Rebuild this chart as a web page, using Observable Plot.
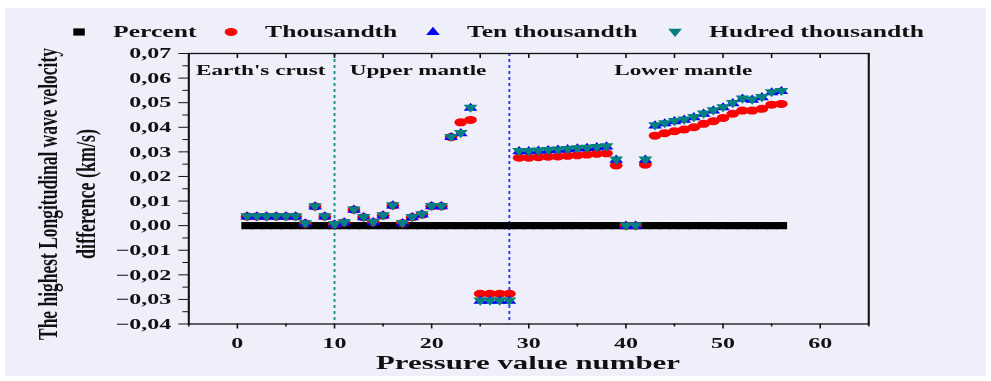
<!DOCTYPE html>
<html><head><meta charset="utf-8">
<script src="https://cdn.jsdelivr.net/npm/d3@7"></script>
<script src="https://cdn.jsdelivr.net/npm/@observablehq/plot@0.6"></script>
<style>
html,body{margin:0;padding:0;background:#fff;width:991px;height:381px;overflow:hidden}
#panel{position:absolute;left:5px;top:8px;width:981px;height:368px;background:#EFEFFB}
#chart{position:absolute;left:0;top:0;transform-origin:0 0;transform:scaleX(1.6)}
</style></head><body><div id="panel"></div><div id="chart"></div>
<script>
// ---- data ----
const pressureNumber = [1,2,3,4,5,6,7,8,9,10,11,12,13,14,15,16,17,18,19,20,21,22,23,24,25,26,27,28,29,30,31,32,33,34,35,36,37,38,39,40,41,42,43,44,45,46,47,48,49,50,51,52,53,54,55,56];
const percent = [0,0,0,0,0,0,0,0,0,0,0,0,0,0,0,0,0,0,0,0,0,0,0,0,0,0,0,0,0,0,0,0,0,0,0,0,0,0,0,0,0,0,0,0,0,0,0,0,0,0,0,0,0,0,0,0];
const thousandth = [0.0037,0.0037,0.0037,0.0037,0.0037,0.0037,0.0009,0.0078,0.0037,0.0005,0.0013,0.0065,0.0034,0.0014,0.0041,0.0082,0.0010,0.0034,0.0045,0.0079,0.0079,0.0360,0.0420,0.0430,-0.0277,-0.0277,-0.0277,-0.0277,0.0276,0.0276,0.0278,0.0280,0.0281,0.0284,0.0286,0.0289,0.0292,0.0294,0.0245,0,0,0.0248,0.0366,0.0376,0.0384,0.0391,0.0400,0.0414,0.0425,0.0438,0.0455,0.0468,0.0468,0.0475,0.0492,0.0495];
const tenThousandth = [0.0037,0.0037,0.0037,0.0037,0.0037,0.0037,0.0009,0.0078,0.0037,0.0005,0.0013,0.0065,0.0034,0.0014,0.0041,0.0082,0.0010,0.0034,0.0045,0.0079,0.0079,0.0360,0.0376,0.0479,-0.0305,-0.0305,-0.0305,-0.0305,0.0303,0.0303,0.0305,0.0307,0.0309,0.0311,0.0314,0.0316,0.0319,0.0322,0.0268,0,0,0.0268,0.0407,0.0416,0.0425,0.0431,0.0441,0.0455,0.0468,0.0481,0.0498,0.0516,0.0512,0.0522,0.0542,0.0547];
const hundredThousandth = [0.0037,0.0037,0.0037,0.0037,0.0037,0.0037,0.0009,0.0078,0.0037,0.0005,0.0013,0.0065,0.0034,0.0014,0.0041,0.0082,0.0010,0.0034,0.0045,0.0079,0.0079,0.0360,0.0376,0.0479,-0.0305,-0.0305,-0.0305,-0.0305,0.0303,0.0303,0.0305,0.0307,0.0309,0.0311,0.0314,0.0316,0.0319,0.0322,0.0268,0,0,0.0268,0.0407,0.0416,0.0425,0.0431,0.0441,0.0455,0.0468,0.0481,0.0498,0.0516,0.0512,0.0522,0.0542,0.0547];
const seriesNames = ["Percent","Thousandth","Ten thousandth","Hudred thousandth"];
const seriesColors = ["#000000","#FF0000","#0000FF","#008080"];
const yTicks = [-0.04,-0.03,-0.02,-0.01,0,0.01,0.02,0.03,0.04,0.05,0.06,0.07];
const yMinorTicks = [-0.035,-0.025,-0.015,-0.005,0.005,0.015,0.025,0.035,0.045,0.055,0.065];
const xTicks = [0,10,20,30,40,50,60];
const xMinorTicks = [-5,5,15,25,35,45,55,65];
const xTopTicks = [-5,0,5,10,15,20,25,30,35,40,45,50,55,60,65];
const boundaries = [{x:10,color:"#1A9090"},{x:28,color:"#3333EE"}];
const regions = [{label:"Earth's crust",x:2.4},{label:"Upper mantle",x:18.6},{label:"Lower mantle",x:45.9}];
const regionY = 0.0631;

const rows = pressureNumber.map((x,i)=>({x, percent:percent[i], thousandth:thousandth[i], ten:tenThousandth[i], hundred:hundredThousandth[i]}));

// ---- symbols (unstretched units; page is stretched horizontally) ----
const sqSym = {draw(c){c.rect(-3.6,-3.6,7.2,7.2);}};
const circSym = {draw(c){c.moveTo(4,0);c.arc(0,0,4,0,2*Math.PI);c.closePath();}};
const upSym = {draw(c){c.moveTo(0,-5.2);c.lineTo(4.3,3);c.lineTo(-4.3,3);c.closePath();}};
const downSym = {draw(c){c.moveTo(0,5);c.lineTo(4.3,-3.2);c.lineTo(-4.3,-3.2);c.closePath();}};
const syms = [sqSym,circSym,upSym,downSym];

const S = 1.6;
const W = 991/S;
const yFmt = d => (d<0?"\u2212":"") + Math.abs(d).toFixed(2).replace(".", ",");
const FONT = "'Liberation Serif','Times New Roman',serif";

const plot = Plot.plot({
  width: W, height: 381,
  marginLeft: 117.5, marginRight: 76.9, marginTop: 53, marginBottom: 57.5,
  style: {fontFamily: FONT, fontSize: "15px", fontWeight: "bold", background: "transparent", color: "#111", overflow: "visible"},
  x: {domain: [-5, 65], ticks: xTicks, tickFormat: d => String(d), tickSize: 5, tickPadding: 8, label: null},
  y: {domain: [-0.04, 0.07], ticks: yTicks, tickFormat: yFmt, tickSize: 6, tickPadding: 5, label: null},
  marks: [
    ...boundaries.map(b => Plot.ruleX([b], {x: "x", stroke: b.color, strokeWidth: 1.2, strokeDasharray: "3,3"})),
    Plot.ruleX(xMinorTicks, {x: d => d, y1: -0.04, y2: -0.04, insetBottom: -3, stroke: "#111", strokeWidth: 1}),
    Plot.ruleX(xTopTicks, {x: d => d, y1: 0.07, y2: 0.07, insetBottom: -5, stroke: "#111", strokeWidth: 1}),
    Plot.ruleY(yMinorTicks, {y: d => d, x1: -5, x2: -5, insetLeft: -3.5, stroke: "#111", strokeWidth: 1}),
    Plot.frame({stroke: "#111", strokeWidth: 1.3}),
    Plot.dot(rows, {x: "x", y: "percent", symbol: sqSym, r: 4, fill: seriesColors[0], stroke: "none"}),
    Plot.dot(rows, {x: "x", y: "thousandth", symbol: circSym, r: 4, fill: seriesColors[1], stroke: "none"}),
    Plot.dot(rows, {x: "x", y: "ten", symbol: upSym, r: 4, fill: seriesColors[2], stroke: "none"}),
    Plot.dot(rows, {x: "x", y: "hundred", symbol: downSym, r: 4, fill: seriesColors[3], stroke: "none"}),
    Plot.text(regions, {x: "x", y: () => regionY, text: "label", fontSize: 14.5, fontWeight: "bold", fill: "#111", textAnchor: "middle"})
  ]
});

document.getElementById("chart").append(plot);
const svg = d3.select(plot);

// legend
const legendSymX = [49.4, 144.4, 270.6, 421.9];
const lg = svg.append("g").attr("font-family", FONT).attr("font-weight", "bold").attr("font-size", 16).attr("text-anchor", "start");
seriesNames.forEach((name, i) => {
  lg.append("path").attr("transform", `translate(${legendSymX[i]},32)`).attr("d", d3.symbol(syms[i])()).attr("fill", seriesColors[i]);
  lg.append("text").attr("x", legendSymX[i] + 21.3).attr("y", 37.5).attr("fill", "#111").text(name);
});

// y-axis title (two lines)
const yt = svg.append("g").attr("font-family", FONT).attr("font-weight", "bold").attr("font-size", 17.5).attr("fill", "#111").attr("text-anchor", "middle");
yt.append("text").attr("transform", "translate(35.5,194) rotate(-90)").attr("textLength", 292).attr("lengthAdjust", "spacingAndGlyphs").text("The highest Longitudinal wave velocity");
yt.append("text").attr("transform", "translate(59.5,194) rotate(-90)").attr("textLength", 130).attr("lengthAdjust", "spacingAndGlyphs").text("difference (km/s)");

// x-axis title
svg.append("text").attr("x", 330).attr("y", 369).attr("text-anchor", "middle").attr("font-family", FONT).attr("font-weight", "bold").attr("font-size", 19.3).attr("fill", "#111").text("Pressure value number");
</script></body></html>
